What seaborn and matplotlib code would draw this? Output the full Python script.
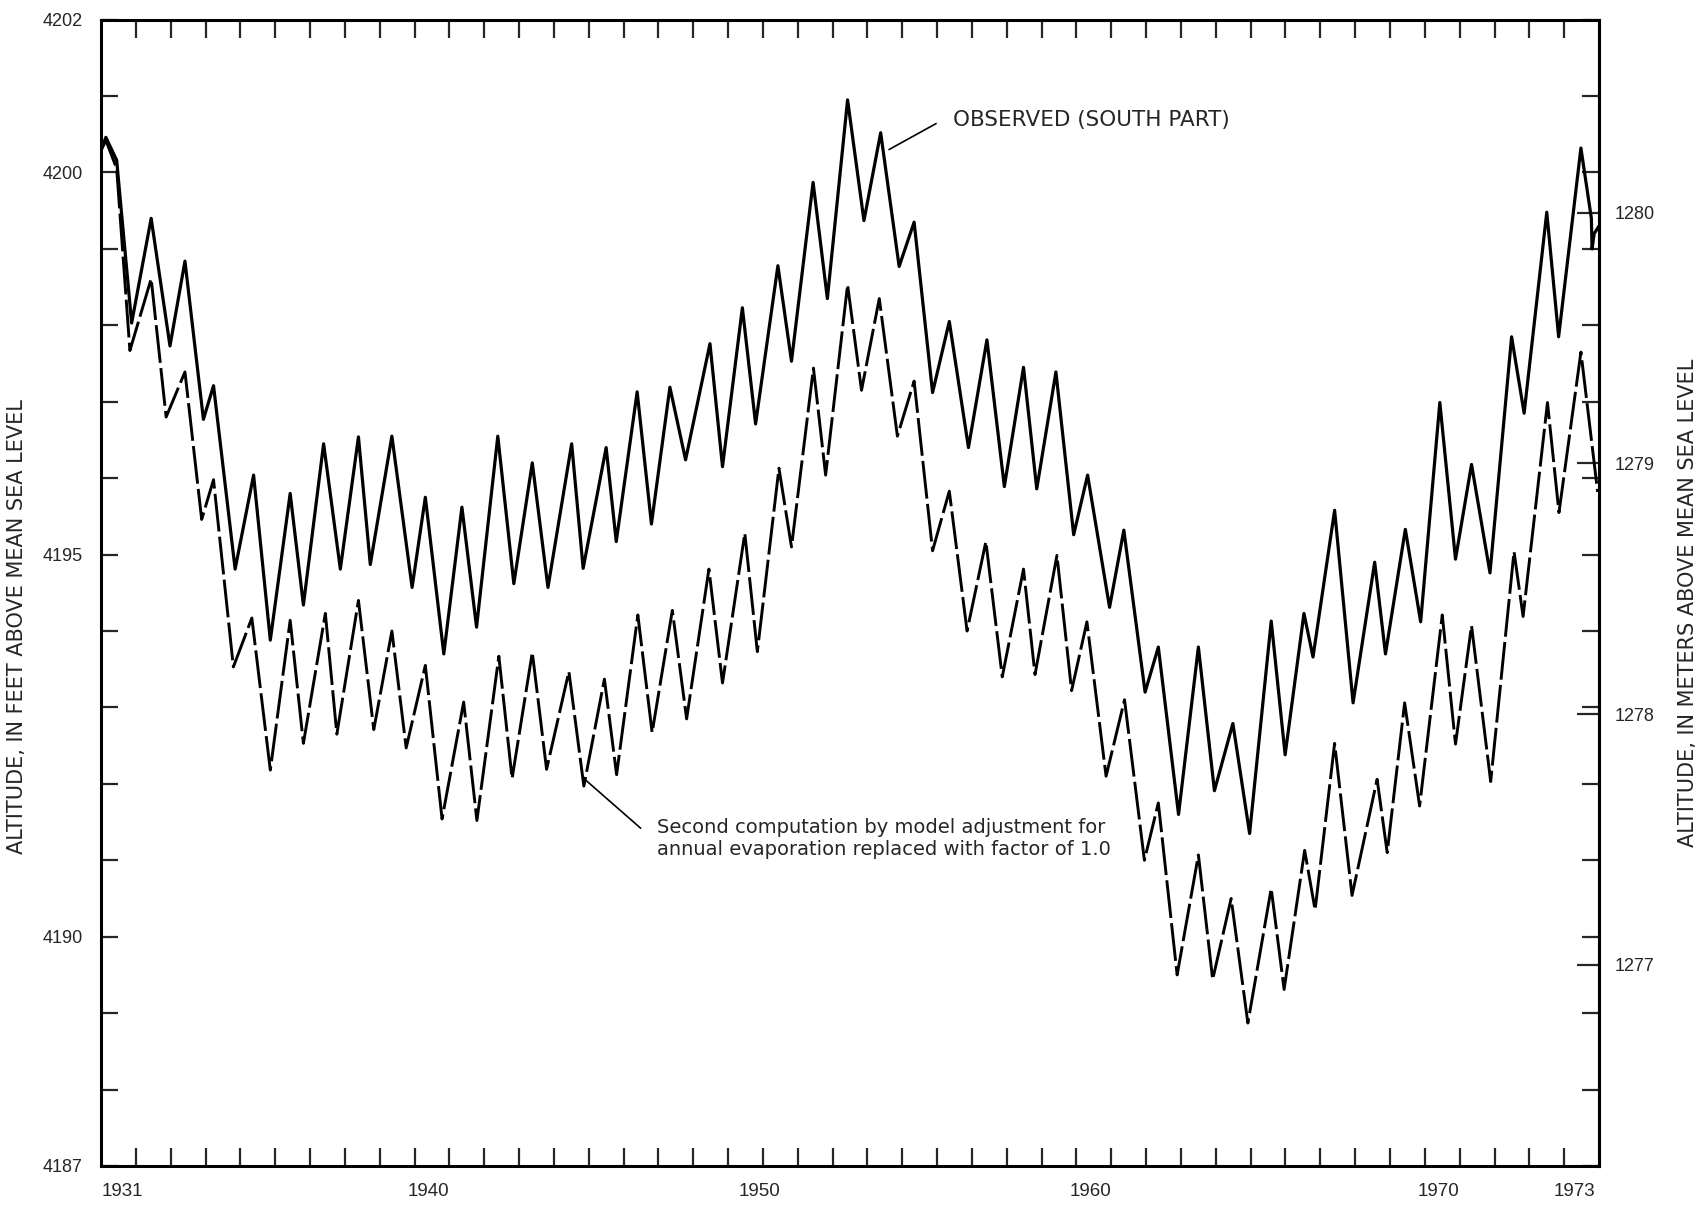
import numpy as np
import pandas as pd
import seaborn as sns
import matplotlib.pyplot as plt

# Observed lake level (south part), feet -- annual highs/lows
obs_year = [1931.00, 1931.14, 1931.45, 1931.88, 1932.44, 1932.98, 1933.41, 1933.94, 1934.23, 1934.85,
            1935.38, 1935.86, 1936.43, 1936.81, 1937.39, 1937.87, 1938.39, 1938.73, 1939.35, 1939.93,
            1940.31, 1940.84, 1941.36, 1941.78, 1942.39, 1942.85, 1943.38, 1943.83, 1944.51, 1944.84,
            1945.50, 1945.79, 1946.39, 1946.80, 1947.33, 1947.78, 1948.48, 1948.84, 1949.41, 1949.79,
            1950.43, 1950.82, 1951.44, 1951.85, 1952.43, 1952.90, 1953.38, 1953.91, 1954.34, 1954.87,
            1955.35, 1955.90, 1956.43, 1956.93, 1957.48, 1957.86, 1958.41, 1958.92, 1959.32, 1959.95,
            1960.36, 1960.97, 1961.35, 1961.93, 1962.50, 1962.96, 1963.49, 1963.97, 1964.59, 1964.99,
            1965.53, 1965.79, 1966.41, 1966.94, 1967.56, 1967.87, 1968.44, 1968.88, 1969.43, 1969.88,
            1970.34, 1970.87, 1971.49, 1971.85, 1972.50, 1972.84, 1973.48, 1973.78, 1973.80, 1973.86,
            1974.00]
obs_ft = [4200.29, 4200.46, 4200.16, 4198.03, 4199.40, 4197.73, 4198.84, 4196.77, 4197.21, 4194.81,
          4196.04, 4193.88, 4195.80, 4194.34, 4196.45, 4194.81, 4196.54, 4194.87, 4196.55, 4194.57,
          4195.75, 4193.70, 4195.62, 4194.05, 4196.55, 4194.62, 4196.20, 4194.57, 4196.45, 4194.82,
          4196.40, 4195.17, 4197.13, 4195.40, 4197.19, 4196.24, 4197.76, 4196.15, 4198.23, 4196.71,
          4198.78, 4197.53, 4199.87, 4198.35, 4200.95, 4199.37, 4200.52, 4198.77, 4199.35, 4197.12,
          4198.05, 4196.40, 4197.81, 4195.89, 4197.45, 4195.86, 4197.39, 4195.26, 4196.04, 4194.31,
          4195.32, 4193.20, 4193.79, 4191.60, 4193.79, 4191.91, 4192.79, 4191.35, 4194.13, 4192.38,
          4194.23, 4193.66, 4195.58, 4193.06, 4194.90, 4193.70, 4195.33, 4194.12, 4196.99, 4194.94,
          4196.18, 4194.76, 4197.85, 4196.85, 4199.48, 4197.85, 4200.32, 4199.40, 4199.00, 4199.20,
          4199.30]

# Second computation (model adjustment, evaporation factor 1.0), feet
sim_year = [1931.00, 1931.14, 1931.45, 1931.83, 1932.44, 1932.87, 1933.41, 1933.89, 1934.23, 1934.80,
            1935.33, 1935.86, 1936.43, 1936.81, 1937.44, 1937.77, 1938.39, 1938.83, 1939.35, 1939.76,
            1940.31, 1940.79, 1941.41, 1941.79, 1942.42, 1942.80, 1943.38, 1943.79, 1944.43, 1944.86,
            1945.45, 1945.80, 1946.41, 1946.82, 1947.40, 1947.81, 1948.45, 1948.84, 1949.48, 1949.84,
            1950.46, 1950.82, 1951.45, 1951.80, 1952.43, 1952.83, 1953.34, 1953.86, 1954.34, 1954.87,
            1955.35, 1955.86, 1956.40, 1956.87, 1957.48, 1957.81, 1958.44, 1958.86, 1959.30, 1959.85,
            1960.38, 1960.95, 1961.35, 1961.89, 1962.50, 1962.91, 1963.44, 1963.92, 1964.59, 1964.96,
            1965.55, 1965.85, 1966.41, 1966.91, 1967.63, 1967.92, 1968.42, 1968.85, 1969.50, 1969.88,
            1970.34, 1970.89, 1971.56, 1971.82, 1972.52, 1972.85, 1973.48, 1973.96]
sim_ft = [4200.29, 4200.42, 4200.05, 4197.67, 4198.61, 4196.80, 4197.39, 4195.46, 4195.98, 4193.53,
          4194.17, 4192.18, 4194.14, 4192.53, 4194.23, 4192.65, 4194.40, 4192.71, 4194.00, 4192.47,
          4193.55, 4191.54, 4193.07, 4191.52, 4193.67, 4192.07, 4193.72, 4192.19, 4193.47, 4191.97,
          4193.37, 4192.12, 4194.21, 4192.67, 4194.27, 4192.85, 4194.81, 4193.32, 4195.28, 4193.73,
          4196.13, 4195.10, 4197.44, 4196.04, 4198.53, 4197.15, 4198.35, 4196.55, 4197.27, 4195.05,
          4195.83, 4194.00, 4195.17, 4193.40, 4194.81, 4193.43, 4194.99, 4193.22, 4194.12, 4192.10,
          4193.10, 4191.00, 4191.75, 4189.50, 4191.07, 4189.44, 4190.50, 4188.87, 4190.63, 4189.31,
          4191.13, 4190.35, 4192.53, 4190.54, 4192.06, 4191.10, 4193.06, 4191.71, 4194.21, 4192.52,
          4194.07, 4192.03, 4195.04, 4194.19, 4196.99, 4195.55, 4197.65, 4195.82]

ft_ticks = [4187, 4190, 4195, 4200, 4202]
m_ticks = [1277, 1278, 1279, 1280]
year_labels = ['1931', '1940', '1950', '1960', '1970', '1973']
year_label_pos = [1931.6, 1940.4, 1949.9, 1959.4, 1969.4, 1973.3]

sns.set_style('white')
plt.rcParams['font.family'] = ['Liberation Sans', 'DejaVu Sans']
plt.rcParams['axes.linewidth'] = 2.2

fig = plt.figure(figsize=(17.06, 12.05), dpi=100)
ax = fig.add_axes([0.0592, 0.0324, 0.8781, 0.9513])

obs = pd.DataFrame({'year': obs_year, 'ft': obs_ft})
sim = pd.DataFrame({'year': sim_year, 'ft': sim_ft})
sns.lineplot(data=obs, x='year', y='ft', ax=ax, color='black', lw=2.3,
             sort=False, estimator=None, solid_joinstyle='round')
sns.lineplot(data=sim, x='year', y='ft', ax=ax, color='black', lw=2.1,
             sort=False, estimator=None, linestyle=(0, (13, 1.8)), dash_joinstyle='round')

ax.set_xlim(1931, 1974)
ax.set_ylim(4187, 4202)
ax.set_xlabel('')
ax.set_ylabel('')
for s in ax.spines.values():
    s.set_color('black')

# x: yearly tick marks inside, labels placed under the year they name
ax.set_xticks(range(1932, 1974), minor=True)
ax.set_xticks(year_label_pos, labels=year_labels)
ax.tick_params(axis='x', which='major', length=0, pad=12, labelsize=13.5)
ax.tick_params(axis='x', which='minor', direction='in', length=13, width=1.6,
               top=True, bottom=True)

# y (feet): every foot marked inside on both sides
ax.set_yticks(range(4188, 4202), minor=True)
ax.set_yticks(ft_ticks)
ax.tick_params(axis='y', which='both', direction='in', length=12, width=1.6,
               left=True, right=True, labelsize=13, pad=13)

# y (meters) on the right
sec = ax.secondary_yaxis('right', functions=(lambda f: f * 0.3048, lambda m: m / 0.3048))
sec.set_yticks(m_ticks)
sec.tick_params(direction='in', length=16, width=1.6, labelsize=13, pad=11)
sec.spines['right'].set_linewidth(2.2)

fig.text(0.010, 0.48, 'ALTITUDE, IN FEET ABOVE MEAN SEA LEVEL', rotation=90,
         ha='center', va='center', fontsize=15, family=['DejaVu Sans'])
fig.text(0.9895, 0.50, 'ALTITUDE, IN METERS ABOVE MEAN SEA LEVEL', rotation=90,
         ha='center', va='center', fontsize=15, family=['DejaVu Sans'])

ax.plot([1953.62, 1954.97], [4200.30, 4200.64], color='black', lw=1.2)
ax.text(1955.45, 4200.69, 'OBSERVED (SOUTH PART)', ha='left', va='center',
        fontsize=15.5, family=['DejaVu Sans'])

ax.plot([1944.91, 1946.49], [4192.05, 4191.42], color='black', lw=1.2)
ax.text(1946.95, 4191.28, 'Second computation by model adjustment for\n'
        'annual evaporation replaced with factor of 1.0',
        ha='left', va='center', fontsize=14, linespacing=1.2, family=['DejaVu Sans'])

fig.savefig('out.png', dpi=100, facecolor='white')
